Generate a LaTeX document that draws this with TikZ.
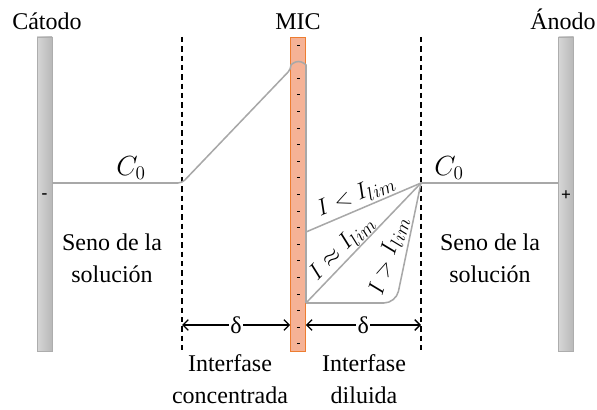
\documentclass[tikz,border=0pt]{standalone}
\usepackage{fontspec}
\setmainfont{Liberation Serif}
\usetikzlibrary{arrows.meta}
\definecolor{micfill}{RGB}{245,178,150}
\definecolor{micdraw}{RGB}{237,125,49}
\definecolor{profgray}{RGB}{168,168,168}
\begin{document}
\begin{tikzpicture}[x=0.75pt,y=-0.75pt,font=\fontsize{18}{24}\selectfont,
  electrode/.style={draw=black!32,left color=black!16,right color=black!28,minimum width=11.25pt,minimum height=235.5pt,inner sep=0pt},
  prof/.style={draw=profgray,line width=1.15pt},
  limit/.style={draw,dashed,dash pattern=on 4pt off 3pt,line width=.8pt},
  delta/.style={{Straight Barb[length=4pt]}-{Straight Barb[length=4pt]},line width=1pt}]
\useasboundingbox (0,0) rectangle (597,410);
% electrodos y membrana
\node[electrode] (cat) at (44.5,194) {};
\node[electrode] (an) at (566,194) {};
\node[draw=micdraw,fill=micfill,minimum width=11.25pt,minimum height=235.5pt,inner sep=0pt] (mic) at (298,194) {};
\foreach \k in {0,...,18}{\draw[line width=.7pt] (297,45+\k*16.6)--++(2.6,0);}
\node[font=\bfseries\fontsize{13}{13}\selectfont] (neg) at (44.5,196) {-};
\node[font=\bfseries\fontsize{13}{13}\selectfont] (pos) at (566,196) {+};
\node[anchor=base] (tcat) at (47,30) {Cátodo};
\node[anchor=base] (tmic) at (298,30) {MIC};
\node[anchor=base] (tan) at (563,30) {Ánodo};
% capas limite
\coordinate (dlt) at (182,37);\coordinate (dlb) at (182,350);
\coordinate (drt) at (421,37);\coordinate (drb) at (421,350);
\draw[limit] (dlt)--(dlb);\draw[limit] (drt)--(drb);
% perfiles de concentracion
\coordinate (kl) at (182,183);\coordinate (kr) at (421,183);
\coordinate (ia) at (306,232);\coordinate (ib) at (306,303);
\draw[prof,rounded corners=3] (cat.east |- kl)--(kl)--(291,69) arc[start angle=180,end angle=360,radius=7.5]--(ib);
\draw[prof] (an.west |- kr)--(kr)--(ia);
\draw[prof] (kr)--(ib);
\draw[prof,rounded corners=9] (kr)--(396,303)--(ib);
\node[font=\fontsize{20}{20}\selectfont] (c0l) at (131,168) {$C_0$};
\node[font=\fontsize{20}{20}\selectfont] (c0r) at (449,168) {$C_0$};
\node[rotate=23,font=\fontsize{19}{19}\selectfont] (lt) at (356,196) {$I<I_{lim}$};
\node[rotate=46,font=\fontsize{19}{19}\selectfont] (eq) at (342,248) {$I\approx I_{lim}$};
\node[rotate=73,font=\fontsize{19}{19}\selectfont] (gt) at (389,256) {$I>I_{lim}$};
% texto
\node[align=center] (sl) at (112,258) {Seno de la\\solución};
\node[align=center] (sr) at (490,258) {Seno de la\\solución};
\draw[delta] (dlt |- 0,325)--node[fill=white,inner sep=1pt] (d1) {δ}(mic.west |- 0,325);
\draw[delta] (mic.east |- 0,325)--node[fill=white,inner sep=1pt] (d2) {δ}(drt |- 0,325);
\node[align=center] (ic) at (230,379) {Interfase\\concentrada};
\node[align=center] (id) at (364,379) {Interfase\\diluida};
\end{tikzpicture}
\end{document}
